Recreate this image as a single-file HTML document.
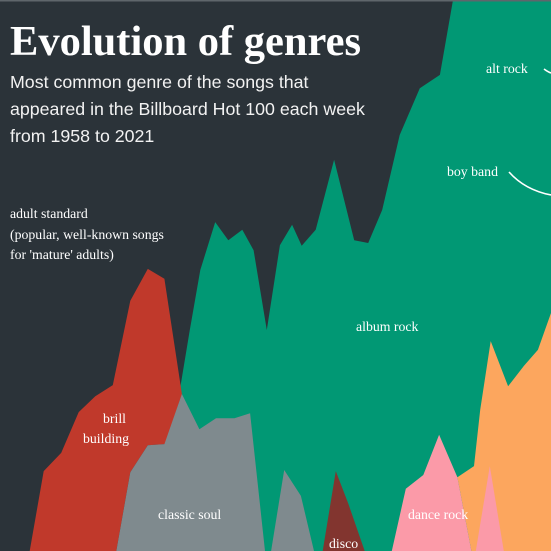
<!DOCTYPE html>
<html><head><meta charset="utf-8"><style>
html,body{margin:0;padding:0;background:#2b3339;}
svg{display:block;}
.lbl{font-family:"Liberation Serif",serif;font-size:13.8px;fill:#fff;}
</style></head><body>
<svg id="chart" width="551" height="551" viewBox="0 0 551 551" xmlns="http://www.w3.org/2000/svg">
<rect x="0" y="0" width="551" height="551" fill="#2b3339"/>
<g id="areas"></g>
<rect x="0" y="0" width="551" height="1.5" fill="#5f666b"/>
<text x="10" y="55" font-family="Liberation Serif,serif" font-weight="bold" font-size="42.5" fill="#fff">Evolution of genres</text>
<g font-family="Liberation Sans,sans-serif" font-size="17.8" fill="#f2f2f2">
<text x="10" y="88">Most common genre of the songs that</text>
<text x="10" y="115">appeared in the Billboard Hot 100 each week</text>
<text x="10" y="142">from 1958 to 2021</text>
</g>
<g class="lbl">
<text class="lbl" x="10" y="218">adult standard</text>
<text class="lbl" x="10" y="239">(popular, well-known songs</text>
<text class="lbl" x="10" y="259">for 'mature' adults)</text>
</g>
<text class="lbl" x="103" y="423">brill</text>
<text class="lbl" x="83" y="443">building</text>
<text class="lbl" x="158" y="519">classic soul</text>
<text class="lbl" x="356" y="331">album rock</text>
<text class="lbl" x="329" y="548">disco</text>
<text class="lbl" x="408" y="519">dance rock</text>
<text class="lbl" x="486" y="73">alt rock</text>
<text class="lbl" x="447" y="176">boy band</text>
<path d="M544,69 Q548,72 551,73" stroke="#fff" stroke-width="1.6" fill="none"/>
<path d="M509,172 Q525,190 551,195" stroke="#fff" stroke-width="1.6" fill="none"/>
</svg>
<script>
const albumRockYears=[1978.6,1979.7,1980.9,1982.6,1984.1,1985.7,1987.0,1988.5,1990.0,1991.4,1992.5,1994.1,1996.2,1998.5,2000.1,2001.7,2003.7,2006.0,2008.3,2009.8,2021,2021,1978.6];
const albumRockValues=[29.6,40.1,51.0,59.7,56.4,58.3,54.6,40.1,55.5,59.2,55.4,58.3,71.0,56.4,55.9,61.9,75.5,84.0,86.4,100,100,0,0];
const hipHopYears=[2021,2019.5,2017.9,2016.1,2014.1,2012.9,2012.2,2010.3,2011.9,2021];
const hipHopValues=[43.2,36.5,33.6,29.9,38.1,25.6,15.4,13.4,0,0];
const danceRockYears=[2002.8,2004.4,2006.4,2008.2,2010.3,2011.9];
const danceRockValues=[0,11.3,13.8,21.1,13.4,0];
const popYears=[2012.4,2014.0,2015.6];
const popValues=[0,15.4,0];
const brillYears=[1961.4,1963.0,1965.0,1967.0,1968.9,1970.9,1972.9,1974.9,1976.8,1978.8,1976.9,1974.9,1972.9,1971.3];
const brillValues=[0,14.5,17.8,25.2,28.1,30.1,45.4,51.2,49.4,28.5,19.4,19.2,14.3,0];
const soulYears=[1971.3,1972.9,1974.9,1976.8,1978.8,1980.8,1982.7,1984.8,1986.6,1988.3];
const soulValues=[0,14.3,19.2,19.4,28.5,22.1,24.1,24.1,25.0,0];
const soul2Years=[1989.0,1990.5,1992.4,1993.9];
const soul2Values=[0,14.7,10.0,0];
const discoYears=[1994.9,1996.4,1997.8,1999.7];
const discoValues=[0,14.5,8.7,0];

const W=551,H=551;
function xScale(y){return (y-1958)/(2021-1958)*W;}
function yScale(v){return H-v/100*H;}
const g=document.getElementById('areas');
function area(years,values,color,name){
  const p=document.createElementNS('http://www.w3.org/2000/svg','polygon');
  p.setAttribute('points',years.map((y,i)=>xScale(y).toFixed(1)+','+yScale(values[i]).toFixed(1)).join(' '));
  p.setAttribute('fill',color);
  
  
  g.appendChild(p);
}
area(albumRockYears,albumRockValues,'#019874','area-album-rock');
area(hipHopYears,hipHopValues,'#fca65e','area-orange-genre');
area(popYears,popValues,'#fb9aa8','area-pink-spike');
area(danceRockYears,danceRockValues,'#fb9aa8','area-dance-rock');
area(brillYears,brillValues,'#c0392b','area-brill-building');
area(soulYears,soulValues,'#7f8a8e','area-classic-soul');
area(soul2Years,soul2Values,'#7f8a8e','area-classic-soul-2');
area(discoYears,discoValues,'#82352f','area-disco');
</script>
</body></html>
